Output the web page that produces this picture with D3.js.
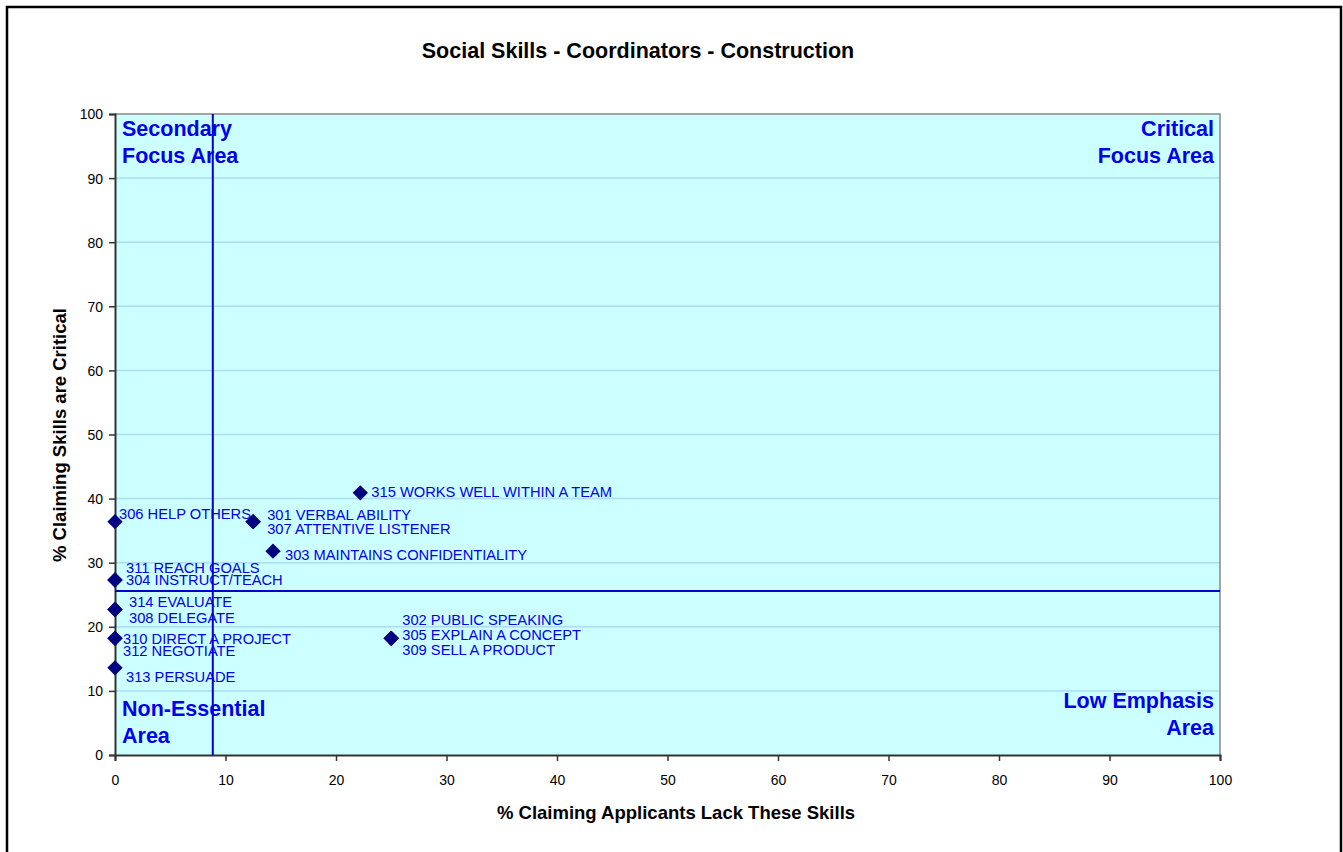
<!DOCTYPE html>
<html>
<head>
<meta charset="utf-8">
<script src="https://cdnjs.cloudflare.com/ajax/libs/d3/7.8.5/d3.min.js"></script>
<style>
  body { margin: 0; background: #fff; }
  text { font-family: Arial, "Liberation Sans", sans-serif; }
</style>
</head>
<body>
<div id="chart"></div>
<script>
  // skills: code + name, x = % lacking, y = % critical
  var skillNames = ["301 VERBAL ABILITY", "302 PUBLIC SPEAKING", "303 MAINTAINS CONFIDENTIALITY",
                    "304 INSTRUCT/TEACH", "305 EXPLAIN A CONCEPT", "306 HELP OTHERS",
                    "307 ATTENTIVE LISTENER", "308 DELEGATE", "309 SELL A PRODUCT",
                    "310 DIRECT A PROJECT", "311 REACH GOALS", "312 NEGOTIATE",
                    "313 PERSUADE", "314 EVALUATE", "315 WORKS WELL WITHIN A TEAM"];
  var lackValues     = [12.5, 25.0, 14.3, 0, 25.0, 0, 12.5, 0, 25.0, 0, 0, 0, 0, 0, 22.2];
  var criticalValues = [36.4, 18.2, 31.8, 27.3, 18.2, 36.4, 36.4, 22.7, 18.2, 18.2, 27.3, 18.2, 13.6, 22.7, 40.9];

  // quadrant divider lines (averages)
  var avgLack = 8.85;
  var avgCritical = 25.6;

  var xTicks = [0, 10, 20, 30, 40, 50, 60, 70, 80, 90, 100];
  var yTicks = [0, 10, 20, 30, 40, 50, 60, 70, 80, 90, 100];

  // label placement (px offset from marker), like dragged excel labels
  var labelOffsets = {
    "301": [14, -7], "302": [11, -18], "303": [12, 4], "304": [11, 0], "305": [11, -3],
    "306": [4, -8], "307": [14, 7], "308": [14, 8], "309": [11, 12], "310": [8, 1],
    "311": [11, -12], "312": [8, 13], "313": [11, 9], "314": [14, -8], "315": [11, -1]
  };

  var width = 1343, height = 852;
  var plot = {left: 115, right: 1220, top: 114, bottom: 755};

  var svg = d3.select("#chart")
              .append("svg")
              .attr("width", width)
              .attr("height", height);

  // outer frame (bottom edge runs off the page)
  svg.append("path")
     .attr("d", "M7,860 V7 H1341 V860")
     .attr("fill", "none")
     .attr("stroke", "black")
     .attr("stroke-width", 2.5);

  var x = d3.scaleLinear().domain([0, 100]).range([plot.left, plot.right]);
  var y = d3.scaleLinear().domain([0, 100]).range([plot.bottom, plot.top]);

  svg.append("rect")
     .attr("x", plot.left)
     .attr("y", plot.top)
     .attr("width", plot.right - plot.left)
     .attr("height", plot.bottom - plot.top)
     .attr("fill", "#ccffff");

  // gridlines
  svg.selectAll(".grid")
     .data(yTicks.filter(function(d) { return d > 0 && d < 100; }))
     .enter()
     .append("line")
     .attr("class", "grid")
     .attr("x1", plot.left)
     .attr("x2", plot.right)
     .attr("y1", function(d) { return y(d); })
     .attr("y2", function(d) { return y(d); })
     .attr("stroke", "#aadcf4")
     .attr("stroke-width", 1.5);

  // plot border top/right
  svg.append("path")
     .attr("d", "M" + plot.left + "," + plot.top + " H" + plot.right + " V" + plot.bottom)
     .attr("fill", "none")
     .attr("stroke", "#888")
     .attr("stroke-width", 1.5);

  // axes
  var xAxis = svg.append("g")
                 .attr("transform", "translate(0," + plot.bottom + ")")
                 .call(d3.axisBottom(x).tickValues(xTicks).tickSize(6).tickPadding(14));
  var yAxis = svg.append("g")
                 .attr("transform", "translate(" + plot.left + ",0)")
                 .call(d3.axisLeft(y).tickValues(yTicks).tickSize(6).tickPadding(6));

  [xAxis, yAxis].forEach(function(ax) {
    ax.select(".domain").attr("stroke", "#333").attr("stroke-width", 2);
    ax.selectAll(".tick line").attr("stroke", "#333").attr("stroke-width", 1.5);
    ax.selectAll(".tick text")
      .attr("fill", "#000")
      .style("font-size", "14px")
      .style("font-family", "Arial, 'Liberation Sans', sans-serif");
  });
  yAxis.selectAll(".tick text").attr("dy", "0.35em");

  // quadrant lines
  svg.append("line")
     .attr("x1", x(avgLack)).attr("x2", x(avgLack))
     .attr("y1", plot.top).attr("y2", plot.bottom)
     .attr("stroke", "#0000cc").attr("stroke-width", 2);
  svg.append("line")
     .attr("x1", plot.left).attr("x2", plot.right)
     .attr("y1", y(avgCritical)).attr("y2", y(avgCritical))
     .attr("stroke", "#0000cc").attr("stroke-width", 2);

  // quadrant labels
  var quads = [
    {lines: ["Secondary", "Focus Area"], x: plot.left + 7, y: 136, anchor: "start"},
    {lines: ["Critical", "Focus Area"], x: plot.right - 6, y: 136, anchor: "end"},
    {lines: ["Non-Essential", "Area"], x: plot.left + 7, y: 716, anchor: "start"},
    {lines: ["Low Emphasis", "Area"], x: plot.right - 6, y: 708, anchor: "end"}
  ];
  quads.forEach(function(q) {
    var t = svg.append("text")
               .attr("x", q.x)
               .attr("y", q.y)
               .attr("text-anchor", q.anchor)
               .attr("fill", "#0000ee")
               .style("font-size", "21.5px")
               .style("font-weight", "bold");
    q.lines.forEach(function(l, i) {
      t.append("tspan").attr("x", q.x).attr("dy", i == 0 ? 0 : 27).text(l);
    });
  });

  var points = skillNames.map(function(n, i) {
    return {name: n, code: n.slice(0, 3), lack: lackValues[i], crit: criticalValues[i]};
  });

  // markers
  svg.selectAll(".pt")
     .data(points)
     .enter()
     .append("path")
     .attr("class", "pt")
     .attr("d", d3.symbol().type(d3.symbolDiamond2).size(150))
     .attr("transform", function(d) { return "translate(" + x(d.lack) + "," + y(d.crit) + ")"; })
     .attr("fill", "#000080");

  // data labels
  svg.selectAll(".lbl")
     .data(points)
     .enter()
     .append("text")
     .attr("class", "lbl")
     .attr("x", function(d) { return x(d.lack) + labelOffsets[d.code][0]; })
     .attr("y", function(d) { return y(d.crit) + labelOffsets[d.code][1]; })
     .attr("dy", "0.35em")
     .attr("fill", "#0000ee")
     .style("font-size", "14.7px")
     .text(function(d) { return d.name; });

  // titles
  svg.append("text")
     .attr("x", 638)
     .attr("y", 58)
     .attr("text-anchor", "middle")
     .style("font-size", "21.5px")
     .style("font-weight", "bold")
     .text("Social Skills - Coordinators - Construction");

  svg.append("text")
     .attr("x", 676)
     .attr("y", 819)
     .attr("text-anchor", "middle")
     .style("font-size", "18.5px")
     .style("font-weight", "bold")
     .text("% Claiming Applicants Lack These Skills");

  svg.append("text")
     .attr("transform", "translate(66,435) rotate(-90)")
     .attr("text-anchor", "middle")
     .style("font-size", "18.5px")
     .style("font-weight", "bold")
     .text("% Claiming Skills are Critical");
</script>
</body>
</html>
